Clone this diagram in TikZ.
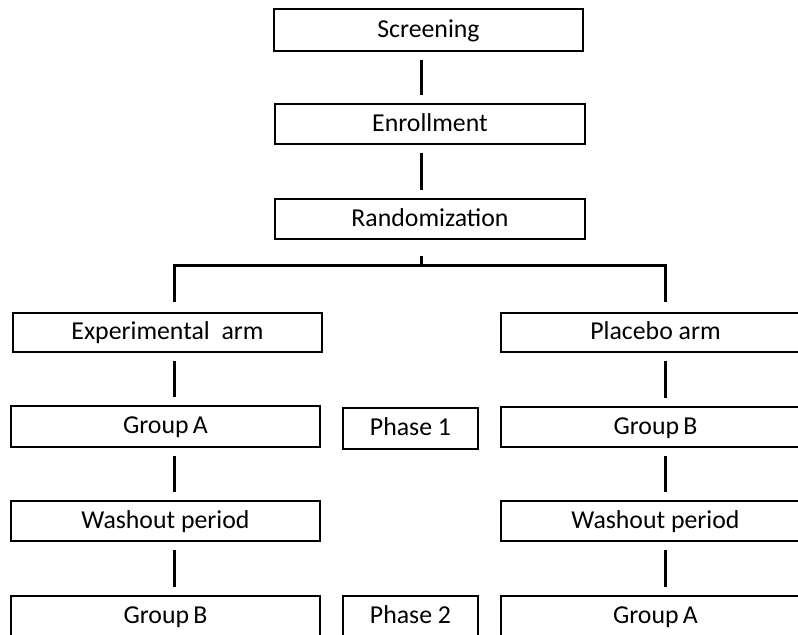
\documentclass[tikz,border=0pt]{standalone}
\usepackage{fontspec}
\setmainfont{Carlito}
\usepackage{tikz}
\usetikzlibrary{positioning}
\tikzset{stage/.style = {draw, line width=0.9pt, inner sep=0pt,
                         minimum width=154.5pt, minimum height=20pt,
                         text height=9.2pt, text depth=2pt,
                         font=\fontsize{12.9}{15}\selectfont},
         phasebox/.style = {stage, minimum width=67.5pt, minimum height=20.5pt},
         link/.style = {line width=1.5pt, shorten <=4pt, shorten >=4pt}}

\begin{document}
\begin{tikzpicture}[x=0.5pt, y=-0.5pt]
    \fill [white] (0, 0) rectangle (798, 635);
    \useasboundingbox (0, 0) rectangle (798, 635);
    \clip (0, 0) rectangle (798, 635);

    \coordinate (spine) at (421, 0);
    \coordinate (split) at (421, 266);
    \coordinate (lfork) at (174, 266);
    \coordinate (rfork) at (665, 266);

    \node [stage, minimum height=21pt] (screen) at (428.5, 30) {Screening};
    \node [stage, minimum width=155pt] (enroll) at (430, 124) {Enrollment};
    \node [stage, minimum width=155pt] (random) at (430, 219) {Randomization};

    \node [stage, minimum height=19.5pt] (exparm) at (167.5, 332.5) {Experimental\ \ arm};
    \node [stage, minimum height=19.5pt] (plcarm) at (655.5, 332.5) {Placebo\ arm};

    \node [stage, minimum height=20.5pt] (grpAl) at (165.5, 426.5) {Group\,A};
    \node [phasebox] (phase1) at (410.5, 428.5) {Phase 1};
    \node [stage] (grpBr) at (655.5, 427) {Group\,B};

    \node [stage] (washl) at (165.5, 521) {Washout period};
    \node [stage] (washr) at (655.5, 521) {Washout period};

    \node [stage] (grpBl) at (165.5, 616) {Group\,B};
    \node [phasebox, minimum height=20pt] (phase2) at (410.5, 616) {Phase 2};
    \node [stage] (grpAr) at (655.5, 616) {Group\,A};

    \draw [link] (screen.south -| spine) -- (enroll.north -| spine);
    \draw [link] (enroll.south -| spine) -- (random.north -| spine);
    \draw [link, shorten <=8pt, shorten >=0pt] (random.south -| spine) -- (split);
    \draw [link, shorten <=5pt, shorten >=5pt] (exparm.north -| lfork) -- (lfork) -- (rfork) -- (plcarm.north -| rfork);

    \draw [link] (exparm.south -| lfork) -- (grpAl.north -| lfork);
    \draw [link] (grpAl.south -| lfork) -- (washl.north -| lfork);
    \draw [link] (washl.south -| lfork) -- (grpBl.north -| lfork);

    \draw [link] (plcarm.south -| rfork) -- (grpBr.north -| rfork);
    \draw [link] (grpBr.south -| rfork) -- (washr.north -| rfork);
    \draw [link] (washr.south -| rfork) -- (grpAr.north -| rfork);
\end{tikzpicture}
\end{document}
